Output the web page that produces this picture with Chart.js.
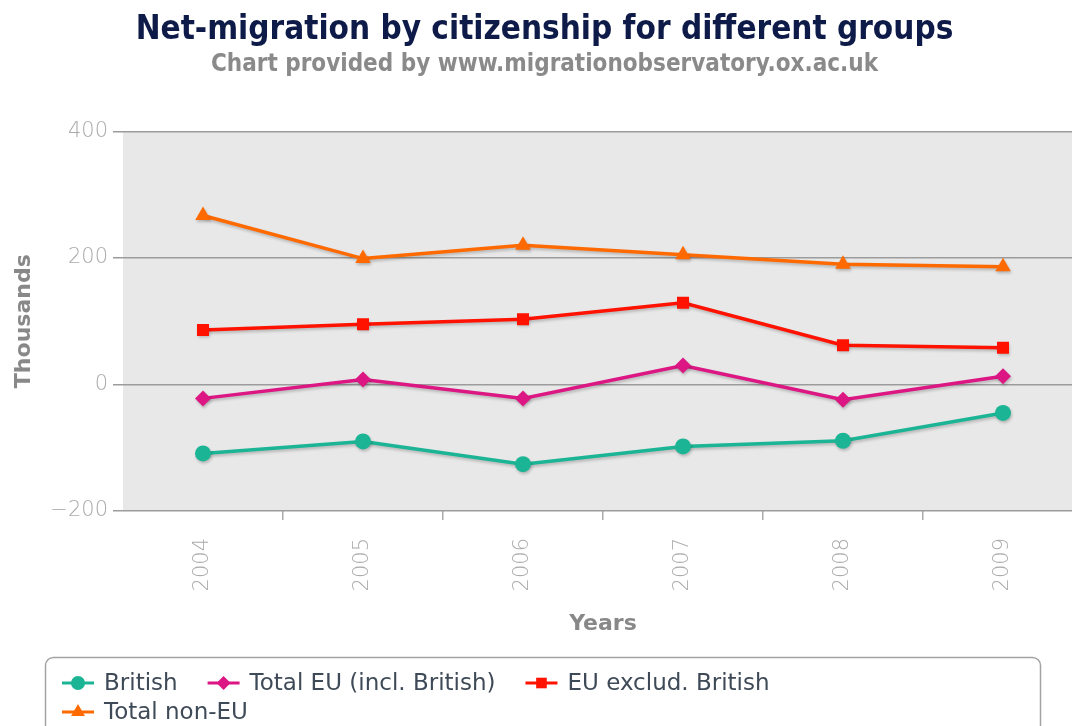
<!DOCTYPE html>
<html>
<head>
<meta charset="utf-8">
<title>Net-migration by citizenship</title>
<script src="https://cdn.jsdelivr.net/npm/chart.js@4/dist/chart.umd.min.js"></script>
<style>
    body { margin: 0; overflow: hidden; background: #fff; }
    #wrap { width: 1092px; height: 726px; position: relative; }
</style>
</head>
<body>
<div id="wrap"><canvas id="myChart"></canvas></div>
<script>
const years = ['2004', '2005', '2006', '2007', '2008', '2009'];
const british = [-109, -90, -126, -98, -89, -45];
const totalEU = [-22, 8, -22, 30, -24, 13];
const euExclBritish = [86, 95, 103, 129, 62, 58];
const totalNonEU = [267, 199, 220, 205, 190, 186];
const yTicks = [-200, 0, 200, 400];

const narrow = "'Liberation Sans Narrow', 'DejaVu Sans Condensed', sans-serif";
const dejavu = "'DejaVu Sans', sans-serif";

function series(label, values, color, style, radius) {
    return {
        label: label,
        data: values,
        borderColor: color,
        backgroundColor: color,
        borderWidth: 3.5,
        tension: 0,
        pointStyle: style,
        pointRadius: radius,
        pointHoverRadius: radius,
        pointBorderWidth: 0,
        pointBackgroundColor: color
    };
}

// grey plot background
const plotBg = {
    id: 'plotBg',
    beforeDraw(chart) {
        const a = chart.chartArea;
        const ctx = chart.ctx;
        ctx.save();
        ctx.fillStyle = '#e8e8e8';
        ctx.fillRect(a.left, a.top, a.right - a.left, a.bottom - a.top);
        ctx.restore();
    }
};

// soft shadow under the lines
const lineShadow = {
    id: 'lineShadow',
    beforeDatasetsDraw(chart) {
        const ctx = chart.ctx;
        ctx.save();
        ctx.shadowColor = 'rgba(0, 0, 0, 0.22)';
        ctx.shadowOffsetX = 1;
        ctx.shadowOffsetY = 2;
        ctx.shadowBlur = 3;
    },
    afterDatasetsDraw(chart) {
        chart.ctx.restore();
    }
};

// boxed legend at the bottom, 3 items per row
const boxLegend = {
    id: 'boxLegend',
    afterDraw(chart) {
        const ctx = chart.ctx;
        ctx.save();
        ctx.strokeStyle = '#a3a3a3';
        ctx.lineWidth = 1.5;
        ctx.beginPath();
        ctx.roundRect(45.5, 657.5, 995, 100, 8);
        ctx.stroke();

        ctx.font = '23px ' + dejavu;
        ctx.textBaseline = 'middle';
        ctx.textAlign = 'left';
        const rows = [683, 712];
        let x = 62;
        chart.data.datasets.forEach((ds, i) => {
            const row = Math.floor(i / 3);
            if (i % 3 === 0) x = 62;
            const y = rows[row];
            ctx.strokeStyle = ds.borderColor;
            ctx.fillStyle = ds.borderColor;
            ctx.lineWidth = 3;
            ctx.beginPath();
            ctx.moveTo(x, y);
            ctx.lineTo(x + 32, y);
            ctx.stroke();
            Chart.helpers.drawPoint(ctx, {
                pointStyle: ds.pointStyle,
                radius: ds.pointRadius - 1,
                rotation: 0,
                borderWidth: 0
            }, x + 16, y);
            ctx.fillStyle = '#3e4a57';
            ctx.fillText(ds.label, x + 42, y + 1);
            x = x + 42 + ctx.measureText(ds.label).width + 30;
        });
        ctx.restore();
    }
};

new Chart(document.getElementById('myChart'), {
    type: 'line',
    data: {
        labels: years,
        datasets: [
            series('British', british, '#1bb595', 'circle', 8),
            series('Total EU (incl. British)', totalEU, '#dc1683', 'rectRot', 8),
            series('EU exclud. British', euExclBritish, '#ff1200', 'rect', 8.5),
            series('Total non-EU', totalNonEU, '#ff6a00', 'triangle', 9)
        ]
    },
    options: {
        responsive: true,
        maintainAspectRatio: false,
        animation: false,
        layout: { padding: { left: 0, right: 3, top: 0, bottom: 76 } },
        plugins: {
            legend: { display: false },
            tooltip: { enabled: false },
            title: {
                display: true,
                text: 'Net-migration by citizenship for different groups',
                color: '#0e1a48',
                font: { family: narrow, size: 33, weight: 'bold' },
                padding: { top: 11, bottom: 0 }
            },
            subtitle: {
                display: true,
                text: 'Chart provided by www.migrationobservatory.ox.ac.uk',
                color: '#8a8a8a',
                font: { family: narrow, size: 24, weight: 'bold' },
                padding: { top: 0, bottom: 52 }
            }
        },
        scales: {
            x: {
                offset: true,
                afterFit(scale) { scale.height = 139; },
                grid: {
                    offset: true,
                    drawOnChartArea: false,
                    tickLength: 9,
                    lineWidth: 1.5,
                    color: (c) => c.index === 0 ? 'rgba(0,0,0,0)' : '#aaaaaa'
                },
                border: { display: false },
                ticks: {
                    minRotation: 90,
                    maxRotation: 90,
                    padding: 18,
                    color: '#aaaaaa',
                    font: { family: dejavu, size: 21, weight: 200 }
                },
                title: {
                    display: true,
                    text: 'Years',
                    color: '#888888',
                    font: { family: dejavu, size: 22, weight: 'bold' },
                    padding: { top: 0, bottom: 13 }
                }
            },
            y: {
                min: -200,
                max: 400,
                afterFit(scale) { scale.width = 123; },
                afterBuildTicks(scale) { scale.ticks = yTicks.map(v => ({ value: v })); },
                grid: {
                    color: '#9c9c9c',
                    lineWidth: 1.5,
                    tickLength: 10
                },
                border: { display: false },
                ticks: {
                    padding: 5,
                    color: '#aaaaaa',
                    font: { family: dejavu, size: 21, weight: 200 },
                    callback: (v) => String(v).replace('-', '\u2212')
                },
                title: {
                    display: true,
                    text: 'Thousands',
                    color: '#888888',
                    font: { family: dejavu, size: 22, weight: 'bold' },
                    padding: { top: 11, bottom: 0 }
                }
            }
        }
    },
    plugins: [plotBg, lineShadow, boxLegend]
});
</script>
</body>
</html>
